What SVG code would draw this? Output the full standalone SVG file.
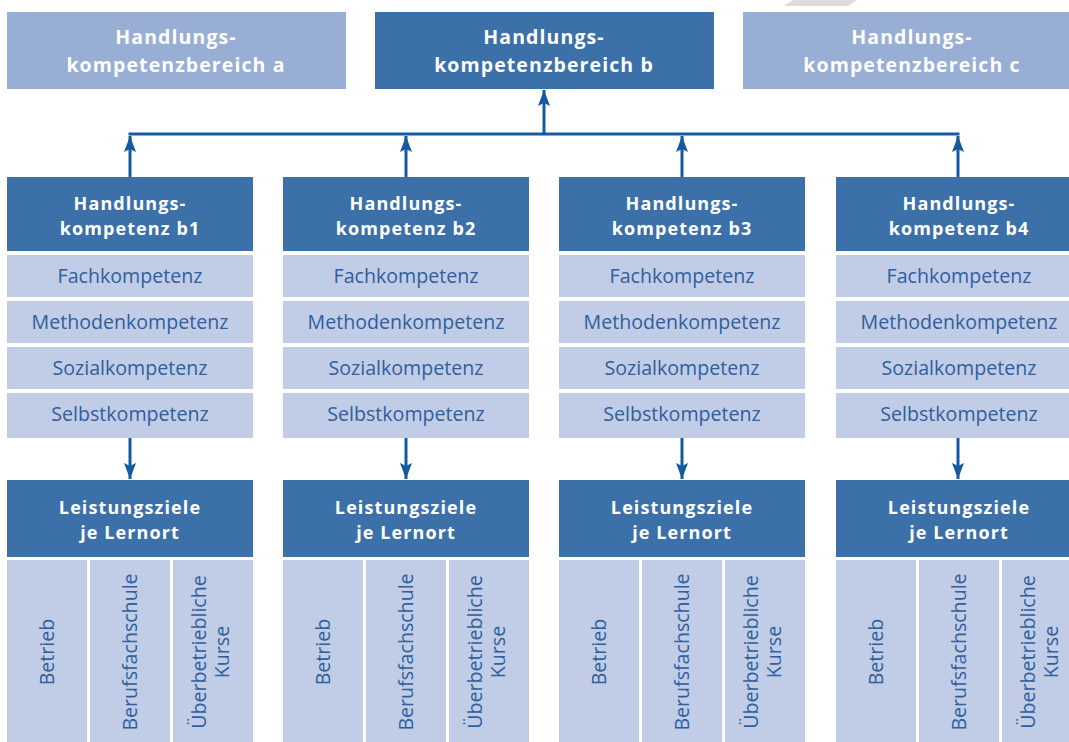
<svg xmlns="http://www.w3.org/2000/svg" width="1069" height="742" viewBox="0 0 1069 742">
<defs>
<style>
.dark{fill:#3b70a9}
.pale{fill:#98aed4}
.row{fill:#c1cce6}
.hd{font-family:"Open Sans","Noto Sans",sans-serif;font-weight:bold;fill:#ffffff;text-anchor:middle;letter-spacing:0.7px}
.top{font-size:19.5px;letter-spacing:1.1px}
.sub{font-size:18px;letter-spacing:1.1px}
.rt{font-family:"Open Sans","Noto Sans",sans-serif;font-size:19.6px;fill:#2e5f9e;text-anchor:middle}
.ln{stroke:#135aa0;stroke-width:3;fill:none}
</style>
<marker id="ah" markerUnits="userSpaceOnUse" markerWidth="18" markerHeight="14" viewBox="0 0 18 14" refX="17" refY="7" orient="auto">
<path d="M17,7 L1,1 L4,7 L1,13 Z" fill="#135aa0"/>
</marker>
</defs>
<rect width="1069" height="742" fill="#ffffff"/>
<polygon points="793,0 857,0 848,6 784,6" fill="#dcdcdc"/>

<g id="bereich-a">
<rect class="pale" x="7" y="12" width="339" height="77"/>
<text class="hd top" x="176" y="44">Handlungs-</text>
<text class="hd top" x="176" y="72">kompetenzbereich a</text>
</g>
<g id="bereich-b">
<rect class="dark" x="375" y="12" width="339" height="77"/>
<text class="hd top" x="544" y="44">Handlungs-</text>
<text class="hd top" x="544" y="72">kompetenzbereich b</text>
</g>
<g id="bereich-c">
<rect class="pale" x="743" y="12" width="339" height="77"/>
<text class="hd top" x="912" y="44">Handlungs-</text>
<text class="hd top" x="912" y="72">kompetenzbereich c</text>
</g>

<g id="connectors">
<line class="ln" x1="128.5" y1="134" x2="959.5" y2="134"/>
<line class="ln" x1="544" y1="134" x2="544" y2="90" marker-end="url(#ah)"/>
<line class="ln" x1="130" y1="177" x2="130" y2="136" marker-end="url(#ah)"/>
<line class="ln" x1="406" y1="177" x2="406" y2="136" marker-end="url(#ah)"/>
<line class="ln" x1="682" y1="177" x2="682" y2="136" marker-end="url(#ah)"/>
<line class="ln" x1="958" y1="177" x2="958" y2="136" marker-end="url(#ah)"/>
<line class="ln" x1="130" y1="438" x2="130" y2="479" marker-end="url(#ah)"/>
<line class="ln" x1="406" y1="438" x2="406" y2="479" marker-end="url(#ah)"/>
<line class="ln" x1="682" y1="438" x2="682" y2="479" marker-end="url(#ah)"/>
<line class="ln" x1="958" y1="438" x2="958" y2="479" marker-end="url(#ah)"/>
</g>

<g id="b1" transform="translate(7,0)">
<rect class="dark" x="0" y="177" width="246" height="74"/>
<text class="hd sub" x="123" y="210">Handlungs-</text>
<text class="hd sub" x="123" y="235">kompetenz b1</text>
<rect class="row" x="0" y="255" width="246" height="42"/><text class="rt" x="123" y="283">Fachkompetenz</text>
<rect class="row" x="0" y="301" width="246" height="42"/><text class="rt" x="123" y="329">Methodenkompetenz</text>
<rect class="row" x="0" y="347" width="246" height="42"/><text class="rt" x="123" y="375">Sozialkompetenz</text>
<rect class="row" x="0" y="393" width="246" height="45"/><text class="rt" x="123" y="421">Selbstkompetenz</text>
<rect class="dark" x="0" y="480" width="246" height="77"/>
<text class="hd sub" x="123" y="514">Leistungsziele</text>
<text class="hd sub" x="123" y="539">je Lernort</text>
<rect class="row" x="0" y="560" width="80" height="182"/>
<rect class="row" x="83" y="560" width="80" height="182"/>
<rect class="row" x="166" y="560" width="80" height="182"/>
<text class="rt" transform="translate(47,652) rotate(-90)">Betrieb</text>
<text class="rt" transform="translate(130,652) rotate(-90)">Berufsfachschule</text>
<text class="rt" transform="translate(199,652) rotate(-90)">Überbetriebliche</text>
<text class="rt" transform="translate(222,652) rotate(-90)">Kurse</text>
</g>

<g id="b2" transform="translate(283,0)">
<rect class="dark" x="0" y="177" width="246" height="74"/>
<text class="hd sub" x="123" y="210">Handlungs-</text>
<text class="hd sub" x="123" y="235">kompetenz b2</text>
<rect class="row" x="0" y="255" width="246" height="42"/><text class="rt" x="123" y="283">Fachkompetenz</text>
<rect class="row" x="0" y="301" width="246" height="42"/><text class="rt" x="123" y="329">Methodenkompetenz</text>
<rect class="row" x="0" y="347" width="246" height="42"/><text class="rt" x="123" y="375">Sozialkompetenz</text>
<rect class="row" x="0" y="393" width="246" height="45"/><text class="rt" x="123" y="421">Selbstkompetenz</text>
<rect class="dark" x="0" y="480" width="246" height="77"/>
<text class="hd sub" x="123" y="514">Leistungsziele</text>
<text class="hd sub" x="123" y="539">je Lernort</text>
<rect class="row" x="0" y="560" width="80" height="182"/>
<rect class="row" x="83" y="560" width="80" height="182"/>
<rect class="row" x="166" y="560" width="80" height="182"/>
<text class="rt" transform="translate(47,652) rotate(-90)">Betrieb</text>
<text class="rt" transform="translate(130,652) rotate(-90)">Berufsfachschule</text>
<text class="rt" transform="translate(199,652) rotate(-90)">Überbetriebliche</text>
<text class="rt" transform="translate(222,652) rotate(-90)">Kurse</text>
</g>

<g id="b3" transform="translate(559,0)">
<rect class="dark" x="0" y="177" width="246" height="74"/>
<text class="hd sub" x="123" y="210">Handlungs-</text>
<text class="hd sub" x="123" y="235">kompetenz b3</text>
<rect class="row" x="0" y="255" width="246" height="42"/><text class="rt" x="123" y="283">Fachkompetenz</text>
<rect class="row" x="0" y="301" width="246" height="42"/><text class="rt" x="123" y="329">Methodenkompetenz</text>
<rect class="row" x="0" y="347" width="246" height="42"/><text class="rt" x="123" y="375">Sozialkompetenz</text>
<rect class="row" x="0" y="393" width="246" height="45"/><text class="rt" x="123" y="421">Selbstkompetenz</text>
<rect class="dark" x="0" y="480" width="246" height="77"/>
<text class="hd sub" x="123" y="514">Leistungsziele</text>
<text class="hd sub" x="123" y="539">je Lernort</text>
<rect class="row" x="0" y="560" width="80" height="182"/>
<rect class="row" x="83" y="560" width="80" height="182"/>
<rect class="row" x="166" y="560" width="80" height="182"/>
<text class="rt" transform="translate(47,652) rotate(-90)">Betrieb</text>
<text class="rt" transform="translate(130,652) rotate(-90)">Berufsfachschule</text>
<text class="rt" transform="translate(199,652) rotate(-90)">Überbetriebliche</text>
<text class="rt" transform="translate(222,652) rotate(-90)">Kurse</text>
</g>

<g id="b4" transform="translate(836,0)">
<rect class="dark" x="0" y="177" width="246" height="74"/>
<text class="hd sub" x="123" y="210">Handlungs-</text>
<text class="hd sub" x="123" y="235">kompetenz b4</text>
<rect class="row" x="0" y="255" width="246" height="42"/><text class="rt" x="123" y="283">Fachkompetenz</text>
<rect class="row" x="0" y="301" width="246" height="42"/><text class="rt" x="123" y="329">Methodenkompetenz</text>
<rect class="row" x="0" y="347" width="246" height="42"/><text class="rt" x="123" y="375">Sozialkompetenz</text>
<rect class="row" x="0" y="393" width="246" height="45"/><text class="rt" x="123" y="421">Selbstkompetenz</text>
<rect class="dark" x="0" y="480" width="246" height="77"/>
<text class="hd sub" x="123" y="514">Leistungsziele</text>
<text class="hd sub" x="123" y="539">je Lernort</text>
<rect class="row" x="0" y="560" width="80" height="182"/>
<rect class="row" x="83" y="560" width="80" height="182"/>
<rect class="row" x="166" y="560" width="80" height="182"/>
<text class="rt" transform="translate(47,652) rotate(-90)">Betrieb</text>
<text class="rt" transform="translate(130,652) rotate(-90)">Berufsfachschule</text>
<text class="rt" transform="translate(199,652) rotate(-90)">Überbetriebliche</text>
<text class="rt" transform="translate(222,652) rotate(-90)">Kurse</text>
</g>
</svg>
